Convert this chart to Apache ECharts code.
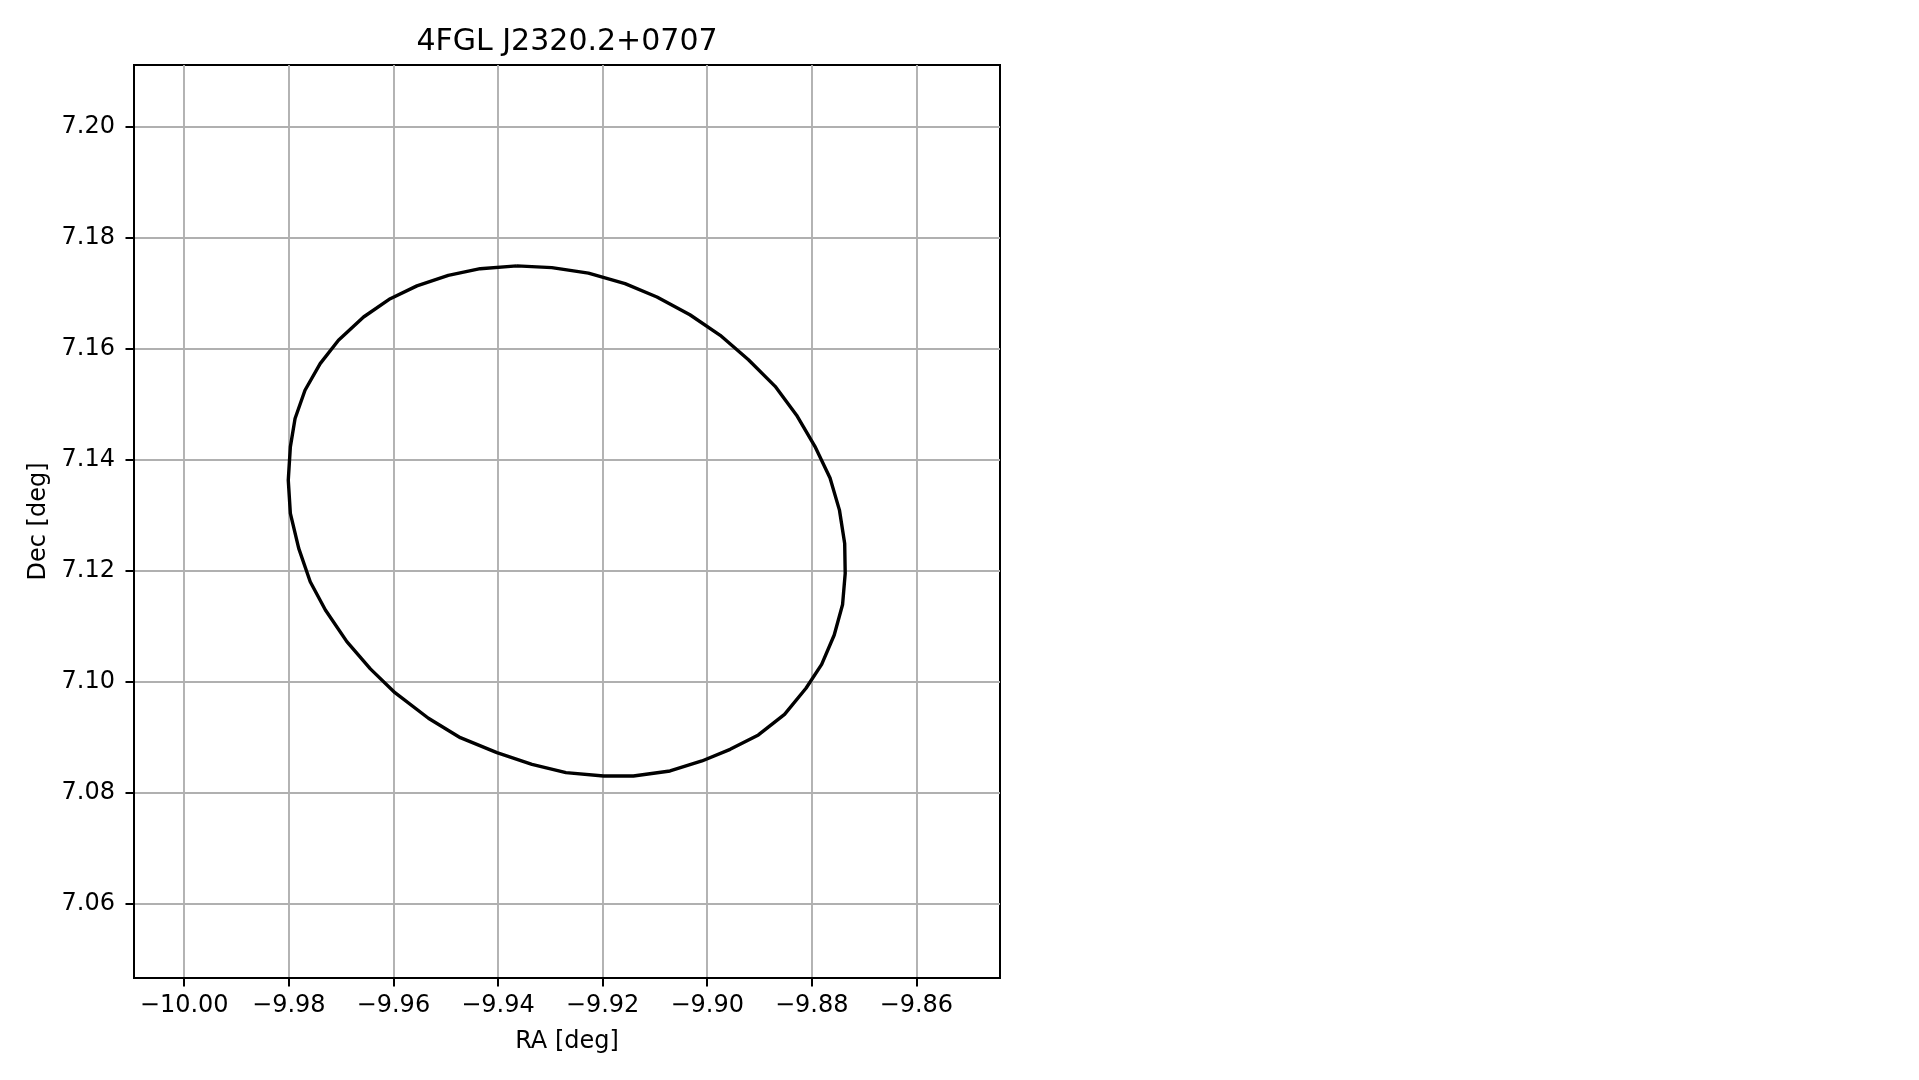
<!DOCTYPE html>
<html>
<head>
<meta charset="utf-8">
<script src="https://cdn.jsdelivr.net/npm/echarts@6/dist/echarts.min.js"></script>
<style>
html,body{margin:0;padding:0;background:#fff;}
#chart{width:1919px;height:1080px;}
</style>
</head>
<body>
<div id="chart"></div>
<script>
// Ellipse contour vertices (RA, Dec)
const raValues = [
  -9.9364, -9.9297, -9.9227, -9.9157, -9.9096, -9.9033, -9.8975, -9.8921, -9.8870, -9.8829,
  -9.8794, -9.8765, -9.8747, -9.8737, -9.8736, -9.8741, -9.8757, -9.8781, -9.8811, -9.8852,
  -9.8902, -9.8956, -9.9010, -9.9071, -9.9141, -9.9198, -9.9270, -9.9335, -9.9402, -9.9472,
  -9.9533, -9.9597, -9.9644, -9.9689, -9.9730, -9.9759, -9.9781, -9.9797, -9.9801, -9.9797,
  -9.9788, -9.9769, -9.9740, -9.9705, -9.9657, -9.9606, -9.9555, -9.9495, -9.9434, -9.9364
];
const decValues = [
  7.1750, 7.1747, 7.1737, 7.1718, 7.1694, 7.1662, 7.1625, 7.1581, 7.1533, 7.1481,
  7.1425, 7.1368, 7.1310, 7.1250, 7.1196, 7.1140, 7.1085, 7.1032, 7.0989, 7.0942,
  7.0905, 7.0879, 7.0858, 7.0840, 7.0831, 7.0831, 7.0837, 7.0852, 7.0873, 7.0900,
  7.0935, 7.0981, 7.1024, 7.1073, 7.1130, 7.1181, 7.1241, 7.1304, 7.1364, 7.1424,
  7.1475, 7.1526, 7.1574, 7.1616, 7.1658, 7.1691, 7.1714, 7.1733, 7.1745, 7.1750
];
const xTicks = [-10.00, -9.98, -9.96, -9.94, -9.92, -9.90, -9.88, -9.86];
const yTicks = [7.06, 7.08, 7.10, 7.12, 7.14, 7.16, 7.18, 7.20];
const xRange = [-10.0096, -9.8440];
const yRange = [7.0467, 7.2112];
const titleText = '4FGL J2320.2+0707';
const xName = 'RA [deg]';
const yName = 'Dec [deg]';

const fmt = v => (v < 0 ? '\u2212' : '') + Math.abs(v).toFixed(2);
const FONT = 'DejaVu Sans';

const chart = echarts.init(document.getElementById('chart'), null, {renderer: 'canvas'});
const points = raValues.map((r, i) => [r, decValues[i]]);

const axisCommon = {
  type: 'value',
  scale: true,
  axisLine: {show: true, onZero: false, lineStyle: {color: '#000', width: 2}},
  axisTick: {show: true, inside: false, length: 8.5, lineStyle: {color: '#000', width: 2}},
  splitLine: {show: true, lineStyle: {color: '#b0b0b0', width: 1.9}},
  nameLocation: 'middle',
  nameTextStyle: {fontFamily: FONT, fontSize: 24, color: '#000'}
};

chart.setOption({
  animation: false,
  backgroundColor: '#fff',
  title: {
    text: titleText,
    left: 567,
    textAlign: 'center',
    top: 27,
    padding: 0,
    textStyle: {fontFamily: FONT, fontSize: 30, fontWeight: 'normal', color: '#000'}
  },
  grid: {
    left: 134, top: 65, width: 866, height: 913,
    show: true, borderColor: '#000', borderWidth: 2, backgroundColor: 'transparent',
    containLabel: false, outerBoundsMode: 'none'
  },
  xAxis: Object.assign({}, axisCommon, {
    min: xRange[0], max: xRange[1],
    name: xName, nameGap: 52,
    axisTick: Object.assign({}, axisCommon.axisTick, {customValues: xTicks}),
    splitLine: Object.assign({}, axisCommon.splitLine),
    axisLabel: {customValues: xTicks, formatter: fmt, margin: 16, fontFamily: FONT, fontSize: 24, color: '#000'}
  }),
  yAxis: Object.assign({}, axisCommon, {
    min: yRange[0], max: yRange[1],
    name: yName, nameGap: 83, nameRotate: 90,
    axisTick: Object.assign({}, axisCommon.axisTick, {customValues: yTicks}),
    splitLine: Object.assign({}, axisCommon.splitLine),
    axisLabel: {customValues: yTicks, formatter: fmt, margin: 19, fontFamily: FONT, fontSize: 24, color: '#000'}
  }),
  series: [{
    type: 'line',
    data: points,
    showSymbol: false,
    symbol: 'none',
    smooth: false,
    lineStyle: {color: '#000', width: 3.4},
    z: 5
  }]
});
</script>
</body>
</html>
